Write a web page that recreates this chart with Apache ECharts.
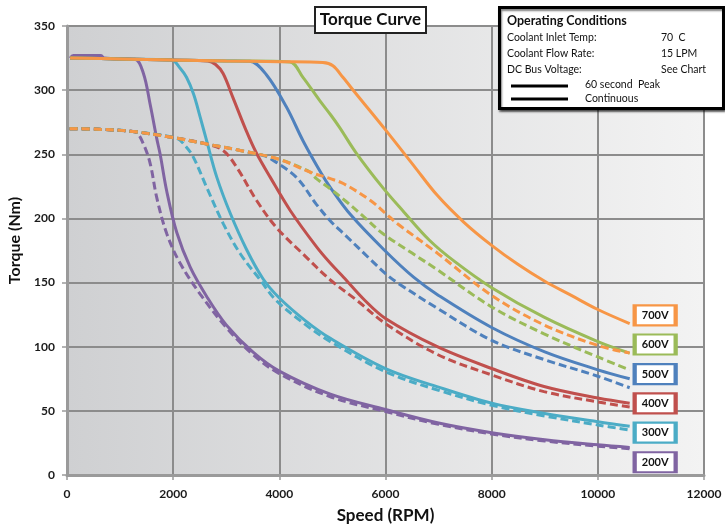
<!DOCTYPE html>
<html><head><meta charset="utf-8">
<script src="https://cdn.jsdelivr.net/npm/echarts@6/dist/echarts.min.js"></script>
<style>html,body{margin:0;padding:0;background:#fff}#c{width:725px;height:531px}</style>
</head><body><div id="c"></div>
<script>
// ---------- DATA ----------
const xTickValues = [0, 2000, 4000, 6000, 8000, 10000, 12000];
const yTickValues = [0, 50, 100, 150, 200, 250, 300, 350];

// 60 second peak (solid)
const peak700 = [[60,325],[1000,324.3],[2000,323.5],[3000,322.8],[4000,322.2],[4820,321.5],[5009,319],[5197,310],[5449,297],[6000,269],[6535,241],[6975,218],[7478,197],[8000,179],[8500,164],[9000,151],[9500,140],[10000,129],[10600,118]];
const peak600 = [[60,325],[1000,324.3],[2000,323.5],[3000,322.8],[4194,322],[4445,310],[4758,292],[4962,281],[5134,271],[5449,251],[5949,224],[6326,206],[6828,183],[7300,166.5],[8000,146],[8987,123],[10000,104],[10600,95]];
const peak500 = [[60,325],[1000,324.3],[2000,323.5],[3000,322.8],[3442,322.5],[3756,312],[4132,287],[4453,260],[4792,235],[4962,224],[5340,203],[5962,176],[6535,154],[7000,140],[8000,115],[9000,96],[10000,82],[10600,75]];
const peak400 = [[60,325],[1000,324.3],[2000,323.5],[2650,322.8],[2800,320],[2941,313],[3128,294],[3380,268],[3568,251],[3830,232],[4208,206],[4698,178],[4962,165],[5214,154],[5590,137],[6000,122],[6975,100],[8000,83],[8987,69],[10000,60],[10600,56]];
const peak300 = [[60,325],[1000,324.3],[1969,323.5],[2132,317],[2251,310],[2384,297],[2509,279],[2634,260],[2823,232],[3075,204],[3380,176],[3692,153],[4000,138],[4500,120],[4962,106.5],[6000,83],[7000,68.5],[8000,56],[9000,48],[10000,41.5],[10600,38]];
const peak200 = [[60,325],[120,327],[640,327],[700,325],[1279,324],[1440,313],[1566,289],[1692,262],[1755,250],[1880,221],[2068,189],[2321,162],[2634,139],[3000,117],[3500,96],[4000,81],[4962,63],[6000,51],[7000,40.5],[8000,33],[9000,27.5],[10000,23.5],[10600,21.5]];

// Continuous (dashed)
const cont700 = [[50,270],[600,269.5],[1189,268],[2000,263],[2634,258],[3264,253],[4000,246],[4585,236],[4962,231],[5214,227],[5717,214],[6000,204],[6220,196],[6975,173],[8000,140],[8987,117],[10000,101],[10600,95]];
const cont600 = [[50,270],[600,269.5],[1189,268],[2000,263],[2634,258],[3264,253],[4000,246],[4585,236],[4698,231],[4962,223],[5264,213],[5600,201],[5955,188],[6500,173],[6975,160],[8000,131],[8987,110],[10000,92],[10600,82]];
const cont500 = [[50,270],[600,269.5],[1189,268],[2000,263],[2634,258],[3264,253],[3700,249],[3820,247],[4321,232],[4698,211],[4962,198],[5214,188],[5717,168],[6000,157],[6220,150],[6975,130],[8000,105],[8987,90],[10000,77],[10600,68]];
const cont400 = [[50,270],[600,269.5],[1189,268],[2000,263],[2634,258],[2941,253],[3195,240],[3572,214],[3943,193],[4453,172],[4962,152],[5465,136],[6000,118],[6975,94],[8000,78],[8987,65],[10000,57],[10600,53]];
const cont300 = [[50,270],[600,269.5],[1189,268],[2063,262.5],[2220,257],[2377,248],[2634,224],[2943,196],[3264,172.5],[3641,152],[3943,136],[4500,117],[4962,104],[6000,80.5],[7000,66],[8000,54.4],[9000,46],[10000,39],[10600,35]];
const cont200 = [[50,270],[600,269.5],[1189,268],[1310,267],[1440,258],[1566,243],[1692,216],[1880,188],[2132,165],[2509,141],[3000,115],[3500,94],[4000,79],[4962,61],[6000,49.5],[7000,39.5],[8000,32],[9000,26.5],[10000,22.5],[10600,20.5]];

// Voltage tag labels (placed in data coordinates)
const voltages = ['700V','600V','500V','400V','300V','200V'];
const tagSpeed = 11080;
const tagTorque = [124.4, 101.7, 78.6, 55.8, 33, 9.9];

// ---------- STYLE ----------
const colors = {'700V':'#f79646','600V':'#9bbb59','500V':'#4f81bd','400V':'#c0504d','300V':'#4bacc6','200V':'#8064a2'};
const FONT = 'Lato';

const peaks = {'700V':peak700,'600V':peak600,'500V':peak500,'400V':peak400,'300V':peak300,'200V':peak200};
const conts = {'700V':cont700,'600V':cont600,'500V':cont500,'400V':cont400,'300V':cont300,'200V':cont200};

const series = [];
const order = ['200V','300V','400V','500V','600V','700V'];
order.forEach(v => {
  const i = voltages.indexOf(v);
  series.push({
    name: v + ' cont', type: 'line', data: conts[v], showSymbol: false, smooth: 0.35,
    lineStyle: {color: colors[v], width: 3, type: [8, 4]}, silent: true, animation: false
  });
  series.push({
    name: v + ' peak', type: 'line', data: peaks[v], showSymbol: false, smooth: 0.35,
    lineStyle: {color: colors[v], width: 3}, silent: true, animation: false,
    markPoint: {
      symbol: 'rect', symbolSize: [41, 20], silent: true, animation: false,
      itemStyle: {color: '#ffffff', borderColor: colors[v], borderWidth: 3},
      label: {show: true, position: 'inside', formatter: '{b}', color: '#111', fontFamily: FONT, fontWeight: 'bold', fontSize: 11},
      data: [{name: v, coord: [tagSpeed, tagTorque[i]]}]
    }
  });
});
// draw orange dashed on top of green solid
const oc = series.findIndex(s => s.name === '700V cont');
const ocS = series.splice(oc, 1)[0];
series.push(ocS);

const chart = echarts.init(document.getElementById('c'), null, {renderer: 'canvas'});
chart.setOption({
  backgroundColor: '#ffffff',
  animation: false,
  textStyle: {fontFamily: FONT},
  grid: {
    left: 67, right: 21, top: 26, bottom: 56, containLabel: false, outerBoundsMode: 'none',
    show: true, borderWidth: 0,
    backgroundColor: new echarts.graphic.LinearGradient(0, 0, 1, 0, [
      {offset: 0, color: '#cfd0d2'}, {offset: 1, color: '#f3f3f3'}
    ])
  },
  xAxis: {
    type: 'value', min: 0, max: 12000, interval: 2000,
    name: 'Speed (RPM)', nameLocation: 'middle', nameGap: 32,
    nameTextStyle: {fontFamily: FONT, fontWeight: 'bold', fontSize: 17, color: '#111'},
    axisLine: {show: true, onZero: false, lineStyle: {color: '#9a9a9a', width: 3}},
    axisTick: {show: true, length: 5, lineStyle: {color: '#9a9a9a', width: 1.5}},
    axisLabel: {margin: 13, color: '#1a1a1a', fontFamily: FONT, fontWeight: 'bold', fontSize: 12,
      formatter: v => xTickValues.includes(v) ? String(v) : ''},
    splitLine: {show: true, lineStyle: {color: '#8c8c8c', width: 2}}
  },
  yAxis: {
    type: 'value', min: 0, max: 350, interval: 50,
    name: 'Torque (Nm)', nameLocation: 'middle', nameGap: 32, nameRotate: 90,
    nameTextStyle: {fontFamily: FONT, fontWeight: 'bold', fontSize: 16, color: '#111', padding: [0, 0, 0, 20]},
    axisLine: {show: true, onZero: false, lineStyle: {color: '#9a9a9a', width: 3}},
    axisTick: {show: true, length: 5, lineStyle: {color: '#9a9a9a', width: 1.5}},
    axisLabel: {margin: 12, color: '#1a1a1a', fontFamily: FONT, fontWeight: 'bold', fontSize: 12,
      formatter: v => yTickValues.includes(v) ? String(v) : ''},
    splitLine: {show: true, lineStyle: {color: '#8c8c8c', width: 2}}
  },
  series: series,
  graphic: [
    // title box
    {type: 'rect', z: 100, shape: {x: 315, y: 7, width: 111, height: 26},
      style: {fill: '#fff', stroke: '#222', lineWidth: 2}},
    {type: 'text', z: 101, x: 370.5, y: 20,
      style: {text: 'Torque Curve', fill: '#111', font: 'bold 17px ' + FONT, align: 'center', verticalAlign: 'middle'}},
    // operating conditions box
    {type: 'rect', z: 100, shape: {x: 499.5, y: 7.5, width: 224, height: 101},
      style: {fill: '#fff', stroke: '#000', lineWidth: 3, shadowColor: 'rgba(0,0,0,0.5)', shadowOffsetX: 1, shadowOffsetY: 2, shadowBlur: 2}},
    {type: 'text', z: 101, x: 507, y: 21, style: {text: 'Operating Conditions', fill: '#111', font: 'bold 12.5px ' + FONT, verticalAlign: 'middle'}},
    {type: 'text', z: 101, x: 507, y: 38, style: {text: 'Coolant Inlet Temp:', fill: '#111', font: '10.5px ' + FONT, verticalAlign: 'middle'}},
    {type: 'text', z: 101, x: 507, y: 53.5, style: {text: 'Coolant Flow Rate:', fill: '#111', font: '10.5px ' + FONT, verticalAlign: 'middle'}},
    {type: 'text', z: 101, x: 507, y: 69.5, style: {text: 'DC Bus Voltage:', fill: '#111', font: '10.5px ' + FONT, verticalAlign: 'middle'}},
    {type: 'text', z: 101, x: 661, y: 38, style: {text: '70  C', fill: '#111', font: '10.5px ' + FONT, verticalAlign: 'middle'}},
    {type: 'text', z: 101, x: 661, y: 53.5, style: {text: '15 LPM', fill: '#111', font: '10.5px ' + FONT, verticalAlign: 'middle'}},
    {type: 'text', z: 101, x: 661, y: 69.5, style: {text: 'See Chart', fill: '#111', font: '10.5px ' + FONT, verticalAlign: 'middle'}},
    {type: 'line', z: 101, shape: {x1: 511, y1: 86, x2: 568, y2: 86}, style: {stroke: '#000', lineWidth: 3}},
    {type: 'line', z: 101, shape: {x1: 511, y1: 99, x2: 568, y2: 99}, style: {stroke: '#000', lineWidth: 3}},
    {type: 'text', z: 101, x: 585, y: 84.5, style: {text: '60 second  Peak', fill: '#111', font: '10.5px ' + FONT, verticalAlign: 'middle'}},
    {type: 'text', z: 101, x: 585, y: 99, style: {text: 'Continuous', fill: '#111', font: '10.5px ' + FONT, verticalAlign: 'middle'}}
  ]
});
</script>
</body></html>
